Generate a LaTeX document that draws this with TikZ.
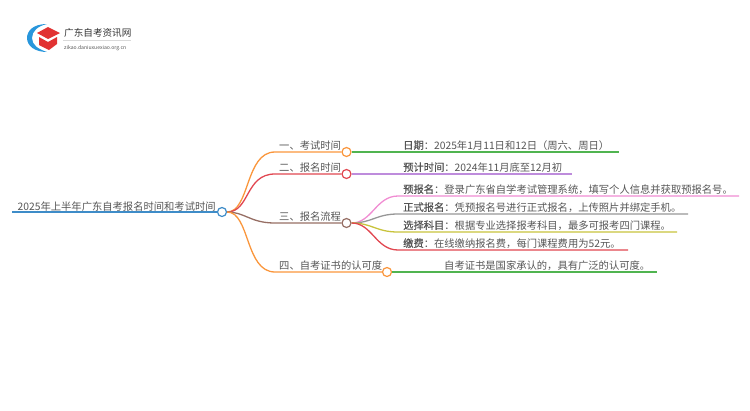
\documentclass[tikz,border=0pt]{standalone}
\usepackage{fontspec}
\setmainfont{Noto Sans CJK SC}
\newfontfamily\boldcjk[FakeBold=0.6]{Noto Sans CJK SC}
\definecolor{txtgray}{RGB}{85,85,85}
\definecolor{lineblue}{RGB}{62,140,200}
\definecolor{lineorange}{RGB}{250,150,60}
\definecolor{linered}{RGB}{225,70,80}
\definecolor{linebrown}{RGB}{150,110,100}
\definecolor{linegreen}{RGB}{80,180,80}
\definecolor{linepurple}{RGB}{190,140,220}
\definecolor{linepink}{RGB}{240,140,210}
\definecolor{linegray}{RGB}{150,150,150}
\definecolor{lineyellow}{RGB}{200,195,60}
\definecolor{logored}{RGB}{225,50,50}
\definecolor{logoblue}{RGB}{40,150,220}
\tikzset{
  lbl/.style={inner sep=0pt,anchor=base west,text=txtgray,font=\fontsize{10.3pt}{12pt}\selectfont},
  dot/.style={circle,draw=#1,fill=white,line width=1.2pt,minimum size=9pt,inner sep=0pt},
  branch/.style={line width=1.3pt}
}
\begin{document}
\begin{tikzpicture}[x=1pt,y=-1pt]
  \useasboundingbox (0,0) rectangle (750,410);
  % logo
  \fill[logoblue] (47,24) .. controls (33,24) and (27,31) .. (27,38) .. controls (27,46) and (35,52) .. (47,52) .. controls (38,49) and (32,45) .. (32,38) .. controls (32,31) and (38,26) .. (47,24) -- cycle;
  \fill[logored] (37,33) -- (48,27) -- (60,33) -- (48,39) -- cycle;
  \fill[logored] (39,37) -- (48,42) -- (57,37) -- (57,44) -- (49,50) -- (39,45) -- cycle;
  \node[lbl,font=\fontsize{9.6pt}{11pt}\selectfont,text=black!80] (logotext) at (64,36) {广东自考资讯网};
  \coordinate (logoa) at (63,40);
  \coordinate (logob) at (131,40);
  \draw[black!15,line width=.5pt] (logoa)--(logob);
  \node[lbl,font=\fontsize{5.1pt}{6pt}\selectfont] (logourl) at (64,49) {zikao.daniuxuexiao.org.cn};
  % points
  \node[dot=lineblue] (root) at (222,212) {};
  \node[dot=lineorange] (one) at (346.5,152) {};
  \node[dot=linered] (two) at (346.5,174) {};
  \node[dot=linebrown] (three) at (346.5,223) {};
  \node[dot=lineorange] (four) at (387,272) {};
  \coordinate (rootstart) at (12,212);
  \coordinate (oneend) at (619,152);
  \coordinate (twoend) at (572,174);
  \coordinate (preend) at (739,196);
  \coordinate (regend) at (688,214);
  \coordinate (selend) at (677,232);
  \coordinate (payend) at (628,250);
  \coordinate (fourend) at (657,272);
  % main branches
  \draw[branch,lineblue] (rootstart) -- (root);
  \draw[branch,lineorange] (root) .. controls (250,212) and (245,152) .. (275,152) -- (one);
  \draw[branch,linered] (root) .. controls (250,212) and (245,174) .. (275,174) -- (two);
  \draw[branch,linebrown] (root) .. controls (245,212) and (250,223) .. (275,223) -- (three);
  \draw[branch,lineorange] (root) .. controls (250,212) and (245,272) .. (275,272) -- (four);
  % leaves
  \draw[branch,linegreen] (one) -- (oneend);
  \draw[branch,linepurple] (two) -- (twoend);
  \draw[branch,linepink] (three) .. controls (372,223) and (376,196) .. (398,196) -- (preend);
  \draw[branch,linegray] (three) .. controls (372,223) and (376,214) .. (398,214) -- (regend);
  \draw[branch,lineyellow] (three) .. controls (372,223) and (376,232) .. (398,232) -- (selend);
  \draw[branch,linered] (three) .. controls (372,223) and (376,250) .. (398,250) -- (payend);
  \draw[branch,linegreen] (four) -- (fourend);
  % labels
  \node[lbl] (roottext) at (17.5,210) {2025年上半年广东自考报名时间和考试时间};
  \node[lbl] (onetext) at (279,149) {一、考试时间};
  \node[lbl] (twotext) at (279,171) {二、报名时间};
  \node[lbl] (threetext) at (279,220) {三、报名流程};
  \node[lbl] (fourtext) at (279,269) {四、自考证书的认可度};
  \node[lbl] (a) at (403,149) {{\boldcjk 日期}：2025年1月11日和12日（周六、周日）};
  \node[lbl] (b) at (403,171) {{\boldcjk 预计时间}：2024年11月底至12月初};
  \node[lbl] (c) at (403,193) {{\boldcjk 预报名}：登录广东省自学考试管理系统，填写个人信息并获取预报名号。};
  \node[lbl] (d) at (403,211) {{\boldcjk 正式报名}：凭预报名号进行正式报名，上传照片并绑定手机。};
  \node[lbl] (e) at (403,229) {{\boldcjk 选择科目}：根据专业选择报考科目，最多可报考四门课程。};
  \node[lbl] (f) at (403,247) {{\boldcjk 缴费}：在线缴纳报名费，每门课程费用为52元。};
  \node[lbl] (g) at (444,269) {自考证书是国家承认的，具有广泛的认可度。};
\end{tikzpicture}
\end{document}
